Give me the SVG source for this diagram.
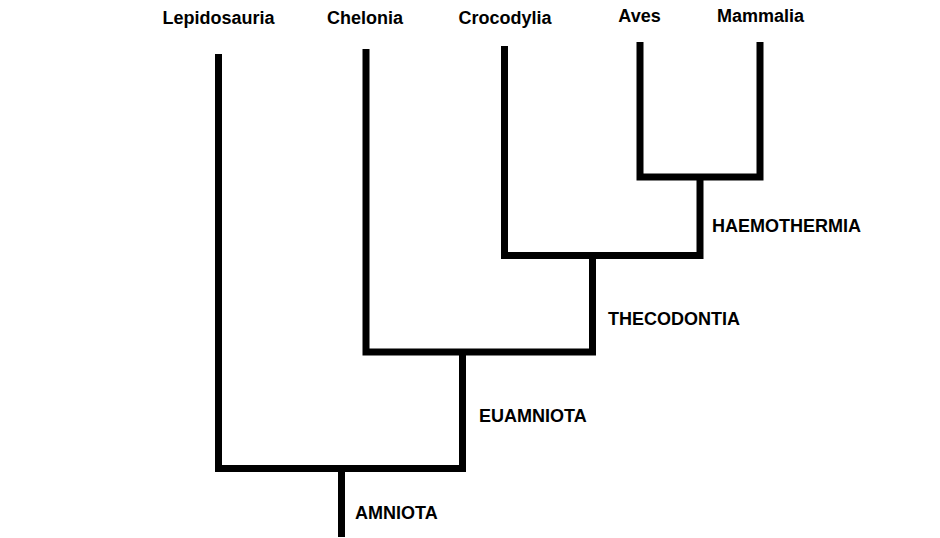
<svg xmlns="http://www.w3.org/2000/svg" width="940" height="538" viewBox="0 0 940 538">
<style>
.t{font-family:"Liberation Sans",Arial,sans-serif;font-weight:bold;font-size:18px;fill:#000}
.c{stroke:#000;stroke-width:7;fill:none;stroke-linecap:butt}
</style>
<rect width="940" height="538" fill="#fff"/>
<g id="connectors">
<path class="c" d="M218.5,54 V468.5 M215,468.5 H466 M462.5,468.5 V352 M341.5,468.5 V537"/>
<path class="c" d="M366,49 V352 M362.5,352 H596 M592.5,352 V252"/>
<path class="c" d="M504.5,46 V255.5 M501,255.5 H703.5 M700,255.5 V174"/>
<path class="c" d="M640,42 V177 M636.5,177 H763.5 M760,177 V42"/>
</g>
<g id="lepidosauria"><text class="t" x="218.5" y="24" text-anchor="middle">Lepidosauria</text></g>
<g id="chelonia"><text class="t" x="365" y="24" text-anchor="middle">Chelonia</text></g>
<g id="crocodylia"><text class="t" x="505" y="24" text-anchor="middle">Crocodylia</text></g>
<g id="aves"><text class="t" x="639.5" y="22" text-anchor="middle">Aves</text></g>
<g id="mammalia"><text class="t" x="760.5" y="22" text-anchor="middle">Mammalia</text></g>
<g id="haemothermia"><text class="t" x="712" y="232">HAEMOTHERMIA</text></g>
<g id="thecodontia"><text class="t" x="608" y="325">THECODONTIA</text></g>
<g id="euamniota"><text class="t" x="479" y="422">EUAMNIOTA</text></g>
<g id="amniota"><text class="t" x="355" y="519">AMNIOTA</text></g>
</svg>
